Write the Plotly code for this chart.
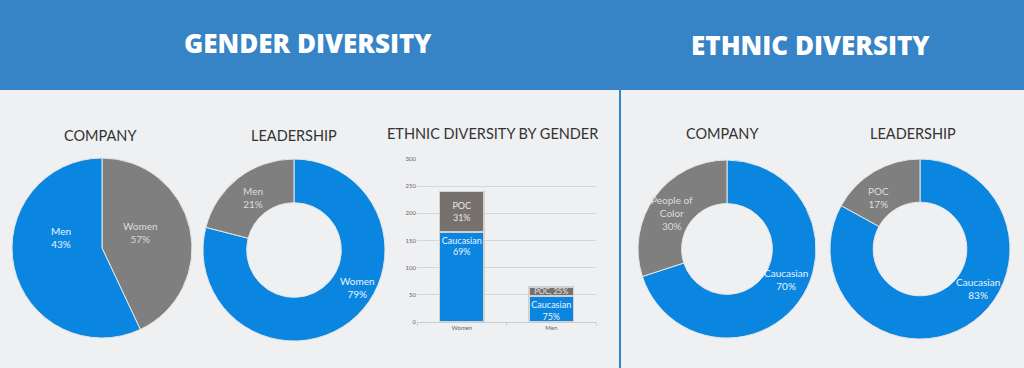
import plotly.graph_objects as go

# ---------------- data ----------------
gender_company_labels = ["Women", "Men"]
gender_company_slices = [43, 57]          # slice sizes as drawn
gender_company_pct = ["57%", "43%"]       # percentages as printed

gender_lead_labels = ["Women", "Men"]
gender_lead_slices = [79, 21]
gender_lead_pct = ["79%", "21%"]

ethnic_company_labels = ["Caucasian", "People of<br>Color"]
ethnic_company_slices = [70, 30]
ethnic_company_pct = ["70%", "30%"]

ethnic_lead_labels = ["Caucasian", "POC"]
ethnic_lead_slices = [83, 17]
ethnic_lead_pct = ["83%", "17%"]

bar_categories = ["Women", "Men"]
bar_caucasian = [166, 48]
bar_poc = [74, 16]
bar_caucasian_text = ["Caucasian<br>69%", "Caucasian<br>75%"]
bar_poc_text = ["POC<br>31%", "POC, 25%"]
bar_y_ticks = [0, 50, 100, 150, 200, 250, 300]

# ---------------- styles ----------------
W, H = 1024, 368
BLUE = "#0a86e0"
GRAY = "#7f7f7f"
BAR_GRAY = "#76716d"
HEADER = "#3683c5"
BG = "#eff0f2"
FONT = "Lato"
TXT_ON_BLUE = "#eaf3fc"
TXT_ON_GRAY = "#dcdcdc"


def px(x):
    return x / W


def py(y):
    return 1 - y / H


def pie_domain(cx, cy, r):
    return dict(x=[px(cx - r), px(cx + r)], y=[py(cy + r), py(cy - r)])


fig = go.Figure()
annotations = []


def add_pie(labels, slices, pct, colors, textcolors, cx, cy, r, hole, label_pos):
    fig.add_trace(go.Pie(
        labels=labels,
        values=slices,
        textinfo="none",
        sort=False,
        direction="clockwise",
        rotation=0,
        hole=hole,
        marker=dict(colors=colors, line=dict(color="#e6e6e6", width=1)),
        domain=pie_domain(cx, cy, r),
        showlegend=False,
    ))
    # slice labels, placed where the reference shows them
    for l, p, c, (lx, ly) in zip(labels, pct, textcolors, label_pos):
        annotations.append(dict(
            text=f"{l}<br>{p}", x=px(lx), y=py(ly), xref="paper", yref="paper",
            showarrow=False, xanchor="center", yanchor="middle", align="center",
            font=dict(family=FONT, size=10, color=c)))


add_pie(gender_company_labels, gender_company_slices, gender_company_pct,
        [GRAY, BLUE], [TXT_ON_GRAY, TXT_ON_BLUE], 102, 248, 90, 0,
        [(140, 232), (61, 237)])
add_pie(gender_lead_labels, gender_lead_slices, gender_lead_pct,
        [BLUE, GRAY], [TXT_ON_BLUE, TXT_ON_GRAY], 294, 250, 91, 0.52,
        [(357, 287), (253, 197)])
add_pie(ethnic_company_labels, ethnic_company_slices, ethnic_company_pct,
        [BLUE, GRAY], [TXT_ON_BLUE, TXT_ON_GRAY], 727, 249, 89, 0.51,
        [(786, 279), (672, 213)])
add_pie(ethnic_lead_labels, ethnic_lead_slices, ethnic_lead_pct,
        [BLUE, GRAY], [TXT_ON_BLUE, TXT_ON_GRAY], 920, 249, 90, 0.52,
        [(978, 288), (878, 197)])

fig.add_trace(go.Bar(
    x=bar_categories, y=bar_caucasian, text=bar_caucasian_text,
    textposition="inside", insidetextanchor="end", textangle=0,
    constraintext="none",
    marker=dict(color=BLUE, line=dict(color="#d2d2d2", width=1.5)),
    textfont=dict(family=FONT, size=9, color=TXT_ON_BLUE),
    width=0.5, showlegend=False, xaxis="x", yaxis="y",
))
fig.add_trace(go.Bar(
    x=bar_categories, y=bar_poc, text=bar_poc_text,
    textposition="inside", insidetextanchor="middle", textangle=0,
    constraintext="none",
    marker=dict(color=BAR_GRAY, line=dict(color="#d2d2d2", width=1.5)),
    textfont=dict(family=FONT, size=[9, 7.5], color="#e6e6e6"),
    width=0.5, showlegend=False, xaxis="x", yaxis="y",
))

shapes = [
    dict(type="rect", xref="paper", yref="paper", x0=-0.01, x1=1.01, y0=py(90), y1=1.05,
         fillcolor=HEADER, line=dict(width=0), layer="below"),
    dict(type="line", xref="paper", yref="paper", x0=px(620), x1=px(620), y0=-0.05, y1=py(90),
         line=dict(color=HEADER, width=2)),
]

for t, x, y in [("GENDER DIVERSITY", 308, 43), ("ETHNIC DIVERSITY", 810, 45)]:
    annotations.append(dict(text=t, x=px(x), y=py(y), xref="paper", yref="paper",
                            showarrow=False, xanchor="center", yanchor="middle",
                            font=dict(family="Open Sans", size=26, color="white", weight=800)))

sub_titles = [("COMPANY", 100, 135), ("LEADERSHIP", 294, 135),
              ("ETHNIC DIVERSITY BY GENDER", 492, 134),
              ("COMPANY", 722, 133), ("LEADERSHIP", 913, 134)]
for t, x, y in sub_titles:
    annotations.append(dict(text=t, x=px(x), y=py(y), xref="paper", yref="paper",
                            showarrow=False, xanchor="center", yanchor="middle",
                            font=dict(family=FONT, size=14.5, color="#333333")))

fig.update_layout(
    template="none",
    width=W, height=H,
    margin=dict(l=0, r=0, t=0, b=0, pad=0, autoexpand=False),
    paper_bgcolor=BG, plot_bgcolor=BG,
    barmode="stack", bargap=0.5, showlegend=False,
    shapes=shapes, annotations=annotations,
    xaxis=dict(domain=[px(417), px(596)], anchor="y", showgrid=False, automargin=False,
               showline=True, linecolor="#cccccc", linewidth=1,
               ticks="outside", tickson="boundaries", ticklen=3, tickcolor="#cccccc",
               tickfont=dict(family=FONT, size=6, color="#666666")),
    yaxis=dict(domain=[py(322), py(159)], anchor="x", range=[0, 300], automargin=False,
               tickvals=bar_y_ticks, showgrid=True, gridcolor="#d6d6d6", gridwidth=1,
               zeroline=False, showline=False, ticks="",
               tickfont=dict(family=FONT, size=6, color="#666666")),
)

post = (
    "document.body.style.margin='0';"
    "document.body.style.overflow='hidden';"
    "var d=document.getElementById('{plot_id}');"
    "d.style.position='fixed';d.style.top='0px';d.style.left='0px';"
)
fig.write_html("out.html", post_script=post, config={"displayModeBar": False})
